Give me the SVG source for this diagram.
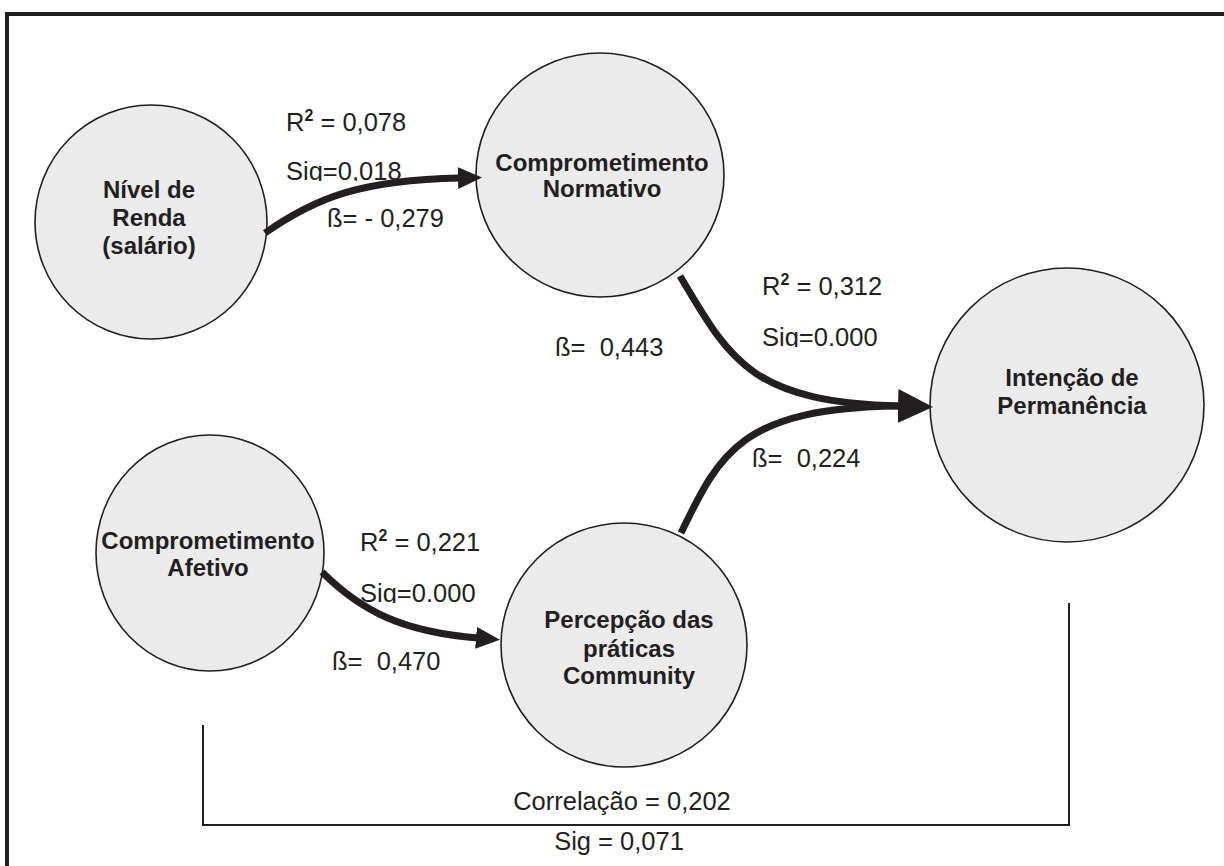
<svg xmlns="http://www.w3.org/2000/svg" width="1224" height="866" viewBox="0 0 1224 866">
<style>
.node{fill:#ebebec;stroke:#231f20;stroke-width:1.6}
.nt{font-family:"Liberation Sans",Arial,sans-serif;font-weight:bold;font-size:24px;fill:#231f20;text-anchor:middle}
.lb{font-family:"Liberation Sans",Arial,sans-serif;font-size:25.5px;fill:#231f20;white-space:pre}
.sup{font-weight:bold;font-size:16px}
.edge{fill:none;stroke:#231f20;stroke-width:7}
.frame{fill:none;stroke:#231f20;stroke-width:4}
.br{fill:none;stroke:#231f20;stroke-width:2}
</style>
<defs>
<marker id="ah" markerUnits="userSpaceOnUse" markerWidth="26" markerHeight="24" refX="2" refY="11" orient="auto">
<path d="M0,0 L24,11 L0,22 Z" fill="#231f20"/>
</marker>
<marker id="ahL" markerUnits="userSpaceOnUse" markerWidth="38" markerHeight="36" refX="2" refY="17" orient="auto">
<path d="M0,0 L35,17 L0,34 Z" fill="#231f20"/>
</marker>
<clipPath id="c1"><rect x="270" y="150" width="200" height="31"/></clipPath>
<clipPath id="c2"><rect x="740" y="315" width="200" height="32"/></clipPath>
<clipPath id="c3"><rect x="340" y="570" width="200" height="33"/></clipPath>
</defs>
<rect width="1224" height="866" fill="#ffffff"/>
<path class="frame" d="M7,866 V14 H1224"/>
<path class="br" d="M203,725 V825 H1069 V603"/>
<g id="n1">
<ellipse class="node" cx="151" cy="222" rx="116" ry="117"/>
<text class="nt" x="149" y="198">Nível de</text>
<text class="nt" x="149" y="226">Renda</text>
<text class="nt" x="149" y="254">(salário)</text>
</g>
<g id="n2">
<ellipse class="node" cx="600" cy="175" rx="124" ry="122"/>
<text class="nt" x="602" y="171">Comprometimento</text>
<text class="nt" x="602" y="197">Normativo</text>
</g>
<g id="n3">
<ellipse class="node" cx="1067" cy="405" rx="137" ry="137"/>
<text class="nt" x="1072" y="386">Intenção de</text>
<text class="nt" x="1072" y="414">Permanência</text>
</g>
<g id="n4">
<ellipse class="node" cx="210" cy="553" rx="114" ry="118"/>
<text class="nt" x="208" y="549">Comprometimento</text>
<text class="nt" x="208" y="576">Afetivo</text>
</g>
<g id="n5">
<ellipse class="node" cx="624" cy="645" rx="123" ry="122"/>
<text class="nt" x="629" y="628">Percepção das</text>
<text class="nt" x="629" y="657">práticas</text>
<text class="nt" x="629" y="684">Community</text>
</g>
<g id="labels">
<text class="lb" x="286" y="131">R<tspan class="sup" dy="-10">2</tspan><tspan dy="10"> = 0,078</tspan></text>
<text class="lb" x="286" y="180" clip-path="url(#c1)">Sig=0,018</text>
<text class="lb" x="327" y="227">ß= - 0,279</text>
<text class="lb" x="762" y="295">R<tspan class="sup" dy="-10">2</tspan><tspan dy="10"> = 0,312</tspan></text>
<text class="lb" x="762" y="346" clip-path="url(#c2)">Sig=0.000</text>
<text class="lb" x="555" y="356">ß=  0,443</text>
<text class="lb" x="752" y="467">ß=  0,224</text>
<text class="lb" x="360" y="551">R<tspan class="sup" dy="-10">2</tspan><tspan dy="10"> = 0,221</tspan></text>
<text class="lb" x="360" y="602" clip-path="url(#c3)">Sig=0.000</text>
<text class="lb" x="332" y="670">ß=  0,470</text>
<text class="lb" x="622" y="810" text-anchor="middle">Correlação = 0,202</text>
<text class="lb" x="619" y="850" text-anchor="middle">Sig = 0,071</text>
</g>
<g id="connectors">
<path class="edge" d="M265,233 C315,198 360,180 460,178" marker-end="url(#ah)"/>
<path class="edge" d="M680,276 C730,360 750,402 900,406" marker-end="url(#ahL)"/>
<path class="edge" d="M681,533 C720,452 742,408 898,406"/>
<path class="edge" d="M322,572 C362,612 404,632 478,638" marker-end="url(#ah)"/>
</g>
</svg>
